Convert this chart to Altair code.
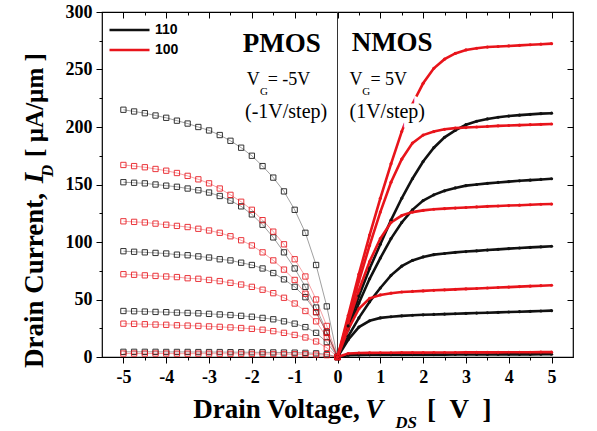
import altair as alt
import pandas as pd

# ---------------- data ----------------
VDS_P = [-5.0, -4.75, -4.5, -4.25, -4.0, -3.75, -3.5, -3.25, -3.0, -2.75, -2.5,
         -2.25, -2.0, -1.75, -1.5, -1.25, -1.0, -0.75, -0.5, -0.25, 0.0]
VDS_N = [0.0, 0.25, 0.5, 0.75, 1.0, 1.25, 1.5, 1.75, 2.0, 2.25, 2.5,
         2.75, 3.0, 3.25, 3.5, 3.75, 4.0, 4.25, 4.5, 4.75, 5.0]
VG_STEPS = [5, 4, 3, 2, 1]

# PMOS, |ID| (uA/um), VG = -5 ... -1 V
P110_VG5 = [215, 213.5, 212, 210, 208, 205.5, 203, 200, 197, 193, 188, 182, 175, 166, 156, 144, 128, 108, 80, 44, 0]
P110_VG4 = [152, 151.5, 151, 150, 149, 148, 146.5, 145, 143, 140, 136, 131, 124, 115, 104, 91, 77, 61, 43, 22, 0]
P110_VG3 = [92, 91.5, 91, 90.5, 90, 89, 88.5, 87.5, 86.5, 85, 84, 82, 80, 77, 73, 67.5, 61, 52, 39, 21, 0]
P110_VG2 = [40, 39.8, 39.5, 39.2, 39, 38.6, 38.3, 38, 37.5, 37, 36.5, 35.8, 35, 34, 32.8, 31, 29, 26, 21, 13, 0]
P110_VG1 = [4.5, 4.5, 4.5, 4.5, 4.4, 4.4, 4.4, 4.3, 4.3, 4.3, 4.2, 4.2, 4.1, 4.1, 4.0, 3.9, 3.8, 3.6, 3.2, 2.4, 0]

P100_VG5 = [167, 166, 165, 163.5, 162, 160, 157.5, 154.5, 151, 146.5, 141, 135, 128, 119, 109, 98, 85, 70, 50, 27, 0]
P100_VG4 = [118, 117.5, 117, 116, 115, 114, 113, 111.5, 110, 108, 105, 101.5, 97, 91, 84, 76, 67, 55, 39, 21, 0]
P100_VG3 = [72, 71.5, 71, 70.5, 70, 69.5, 68.5, 68, 67, 66, 64.5, 63, 61, 58.5, 55.5, 51.5, 46.5, 40, 31, 17, 0]
P100_VG2 = [29, 28.8, 28.5, 28.2, 28, 27.6, 27.3, 27, 26.6, 26.2, 25.7, 25.2, 24.5, 23.7, 22.5, 21, 19.2, 17, 13.5, 8, 0]
P100_VG1 = [3, 3, 3, 3, 3, 2.9, 2.9, 2.9, 2.9, 2.8, 2.8, 2.8, 2.7, 2.7, 2.6, 2.6, 2.5, 2.4, 2.1, 1.6, 0]

# NMOS, ID (uA/um), VG = 5 ... 1 V
N110_VG5 = [0, 27, 53, 77, 98, 119, 138, 155, 170, 182, 191, 197, 202, 205, 207, 208.5, 209.5, 210.3, 211, 211.6, 212]
N110_VG4 = [0, 24, 47, 68, 86, 103, 117, 128, 136, 141, 144.5, 147, 149, 150, 151, 151.8, 152.5, 153.2, 153.8, 154.4, 155]
N110_VG3 = [0, 18, 34, 48, 60, 71, 79, 84, 87, 89, 90, 91, 91.7, 92.3, 93, 93.6, 94.2, 94.8, 95.3, 95.8, 96.3]
N110_VG2 = [0, 15, 26, 31.5, 34, 35, 35.8, 36.3, 36.7, 37, 37.3, 37.6, 37.9, 38.2, 38.5, 38.8, 39.1, 39.4, 39.7, 40, 40.3]
N110_VG1 = [0, 1.5, 1.8, 1.9, 2, 2, 2, 2.1, 2.1, 2.1, 2.1, 2.2, 2.2, 2.2, 2.2, 2.3, 2.3, 2.3, 2.3, 2.4, 2.4]

N100_VG5 = [0, 36, 72, 106, 138, 168, 196, 220, 238, 251, 259, 264, 267, 268.5, 269.5, 270, 270.5, 271, 271.5, 272, 272.5]
N100_VG4 = [0, 33, 66, 97, 126, 152, 172, 186, 193, 196, 198, 199, 199.5, 200, 200.5, 201, 201.3, 201.6, 202, 202.3, 202.6]
N100_VG3 = [0, 30, 58, 83, 103, 117, 123, 126, 127.5, 128.5, 129, 129.5, 130, 130.5, 131, 131.3, 131.7, 132, 132.4, 132.8, 133]
N100_VG2 = [0, 24, 42, 51, 54, 55.5, 56.5, 57, 57.5, 58, 58.4, 58.8, 59.2, 59.6, 60, 60.4, 60.8, 61.2, 61.6, 62, 62.4]
N100_VG1 = [0, 3, 3.5, 3.6, 3.7, 3.7, 3.8, 3.8, 3.8, 3.9, 3.9, 3.9, 4, 4, 4, 4, 4.1, 4.1, 4.1, 4.2, 4.2]

ORIENTS = ["110", "100"]
COLORS = ["#111111", "#e8141b"]
X_TICKS = [-5, -4, -3, -2, -1, 0, 1, 2, 3, 4, 5]
Y_TICKS = [0, 50, 100, 150, 200, 250, 300]

# ---------------- tables ----------------
PMOS = {"110": [P110_VG5, P110_VG4, P110_VG3, P110_VG2, P110_VG1],
        "100": [P100_VG5, P100_VG4, P100_VG3, P100_VG2, P100_VG1]}
NMOS = {"110": [N110_VG5, N110_VG4, N110_VG3, N110_VG2, N110_VG1],
        "100": [N100_VG5, N100_VG4, N100_VG3, N100_VG2, N100_VG1]}

rows_p, rows_n = [], []
for o in ORIENTS:
    for vg, ys in zip(VG_STEPS, PMOS[o]):
        for v, i in zip(VDS_P, ys):
            rows_p.append({"orient": o, "curve": f"{o}_{vg}", "vds": v, "id": i})
    for vg, ys in zip(VG_STEPS, NMOS[o]):
        for v, i in zip(VDS_N, ys):
            rows_n.append({"orient": o, "curve": f"{o}_{vg}", "vds": v, "id": i})
df_p = pd.DataFrame(rows_p)
df_n = pd.DataFrame(rows_n)

SERIF = "Liberation Serif"
SANS = "Liberation Sans"

xs = alt.Scale(domain=[-5.5, 5.5], nice=False, zero=False)
ys = alt.Scale(domain=[0, 300], nice=False)
cs = alt.Scale(domain=ORIENTS, range=COLORS)

x_minor = [v / 2 for v in range(2 * X_TICKS[0], 2 * X_TICKS[-1] + 1)]
y_minor = list(range(Y_TICKS[0], Y_TICKS[-1] + 1, 25))

common_axis = dict(grid=False, domain=False, tickColor="black", tickWidth=1,
                   labelFont=SERIF, labelFontWeight="bold", labelFontSize=18,
                   labelColor="black", title=None)

bottom_axis = alt.Axis(orient="bottom", values=x_minor,
                       labelExpr="datum.value % 1 === 0 ? '' + datum.value : ''",
                       tickSize={"condition": {"test": "datum.value % 1 !== 0", "value": 3}, "value": 6},
                       labelPadding=5, **common_axis)
left_axis = alt.Axis(orient="left", values=y_minor,
                     labelExpr="datum.value % 50 === 0 ? '' + datum.value : ''",
                     tickSize={"condition": {"test": "datum.value % 50 !== 0", "value": 3}, "value": 6},
                     labelPadding=4, **common_axis)
top_axis = alt.Axis(orient="bottom", offset=-345, values=x_minor, labels=False,
                    tickSize={"condition": {"test": "datum.value % 1 !== 0", "value": 3}, "value": 6},
                    grid=False, domain=False, tickColor="black", tickWidth=1, title=None)
right_axis = alt.Axis(orient="left", offset=-471, values=y_minor, labels=False,
                      tickSize={"condition": {"test": "datum.value % 50 !== 0", "value": 3}, "value": 6},
                      grid=False, domain=False, tickColor="black", tickWidth=1, title=None)

nmos = alt.Chart(df_n).mark_line(
    strokeWidth=2.6,
    point=alt.OverlayMarkDef(size=10, filled=True, opacity=1),
).encode(
    x=alt.X("vds:Q", scale=xs, axis=bottom_axis),
    y=alt.Y("id:Q", scale=ys, axis=left_axis),
    color=alt.Color("orient:N", scale=cs, legend=alt.Legend(
        orient="none", legendX=6, legendY=8, title=None, symbolType="stroke",
        symbolSize=1600, symbolStrokeWidth=2.5, labelFont=SANS, labelFontWeight="bold",
        labelFontSize=14, labelColor="black", padding=0, labelOffset=4, rowPadding=0,
        clipHeight=20)),
    detail="curve:N",
    order="vds:Q",
)

pmos_line = alt.Chart(df_p).mark_line(strokeWidth=1, opacity=0.4).encode(
    x=alt.X("vds:Q", scale=xs, axis=None),
    y=alt.Y("id:Q", scale=ys, axis=None),
    color=alt.Color("orient:N", scale=cs, legend=None),
    detail="curve:N",
    order="vds:Q",
)

pmos = alt.Chart(df_p).mark_point(shape="square", filled=False, size=28, strokeWidth=1, opacity=0.85).encode(
    x=alt.X("vds:Q", scale=xs, axis=top_axis),
    y=alt.Y("id:Q", scale=ys, axis=right_axis),
    color=alt.Color("orient:N", scale=cs, legend=None),
)

zero_rule = alt.Chart(pd.DataFrame({"vds": [0]})).mark_rule(color="#333333", strokeWidth=1).encode(
    x=alt.X("vds:Q", scale=xs, axis=None))


def text_layer(texts, xv, yv, size, weight="normal", style="normal", font=SERIF, angle=0, halo=False):
    d = pd.DataFrame({"t": texts, "x": xv, "y": yv})
    base = alt.Chart(d)
    kw = dict(align="left", baseline="alphabetic", font=font, fontSize=size, fontWeight=weight,
              fontStyle=style, angle=angle, clip=False)
    enc = dict(x=alt.X("x:Q", scale=xs, axis=None), y=alt.Y("y:Q", scale=ys, axis=None), text="t:N")
    layers = []
    if halo:
        layers.append(base.mark_text(color="white", stroke="white", strokeWidth=9, **kw).encode(**enc))
    layers.append(base.mark_text(color="black", **kw).encode(**enc))
    return layers


NB = "\u00a0"
# annotation texts and their anchors (data units)
ANN_BIG = ["PMOS", "NMOS"]
ANN_BIG_X = [-2.21, 0.33]
ANN_BIG_Y = [265, 266]

ANN_V = ["V", "= -5V", "V", "= 5V"]
ANN_V_X = [-2.12, -1.63, 0.28, 0.77]
ANN_V_Y = [236.5, 236.5, 236.5, 236.5]
ANN_STEP = ["(-1V/step)", "(1V/step)"]
ANN_STEP_X = [-2.16, 0.28]
ANN_STEP_Y = [208, 208]
ANN_SUB = ["G", "G"]
ANN_SUB_X = [-1.81, 0.58]
ANN_SUB_Y = [228, 228]

XT_MAIN = ["Drain Voltage,", "[" + NB + NB + "V" + NB + NB + "]"]
XT_MAIN_X = [-3.37, 2.09]
XT_Y = [-53, -53]
XT_IT = ["V"]
XT_IT_X = [0.65]
XT_SUB = ["DS"]
XT_SUB_X = [1.35]
XT_SUB_Y = [-61.5]

YT_MAIN = ["Drain Current,"]
YT_MAIN_Y = [-9.6]
YT_X = [-6.88, -6.88]
YT_BR = ["[ \u00b5A/\u00b5m ]"]
YT_BR_Y = [174]
YT_IT = ["I"]
YT_IT_Y = [151]
YT_SUB = ["D"]
YT_SUB_X = [-6.65]
YT_SUB_Y = [156.5]

layers = [zero_rule, pmos_line, pmos, nmos]
layers += text_layer(ANN_BIG, ANN_BIG_X, ANN_BIG_Y, 27, weight="bold")
layers += text_layer(ANN_V, ANN_V_X, ANN_V_Y, 18, halo=True)
layers += text_layer(ANN_STEP, ANN_STEP_X, ANN_STEP_Y, 20, halo=True)
layers += text_layer(ANN_SUB, ANN_SUB_X, ANN_SUB_Y, 11)
layers += text_layer(XT_MAIN, XT_MAIN_X, XT_Y, 27, weight="bold")
layers += text_layer(XT_IT, XT_IT_X, XT_Y[:1], 27, weight="bold", style="italic")
layers += text_layer(XT_SUB, XT_SUB_X, XT_SUB_Y, 17, weight="bold", style="italic")
layers += text_layer(YT_MAIN, YT_X[:1], YT_MAIN_Y, 27, weight="bold", angle=270)
layers += text_layer(YT_BR, YT_X[:1], YT_BR_Y, 25, weight="bold", angle=270)
layers += text_layer(YT_IT, YT_X[:1], YT_IT_Y, 27, weight="bold", style="italic", angle=270)
layers += text_layer(YT_SUB, YT_SUB_X, YT_SUB_Y, 17, weight="bold", style="italic", angle=270)

chart = alt.layer(*layers).resolve_scale(
    color="independent"
).resolve_axis(
    x="independent", y="independent"
).properties(
    width=471, height=345,
    autosize=alt.AutoSizeParams(type="none"),
    padding={"left": 102, "top": 12, "right": 24, "bottom": 74},
    background="white",
).configure_view(
    stroke="black", strokeWidth=1.2
).configure_axis(
    labelFont=SERIF, labelFontWeight="bold", labelFontSize=18, labelColor="black"
)

chart.save("out.html", embed_options={"renderer": "svg", "actions": False})
